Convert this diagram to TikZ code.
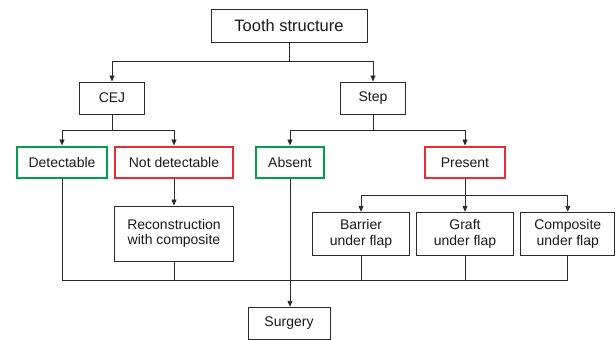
\documentclass[tikz,border=0pt]{standalone}
\usepackage{fontspec}
\setmainfont{Liberation Sans}
\usetikzlibrary{arrows.meta}
\definecolor{lc}{HTML}{2A2A2A}
\definecolor{gbox}{HTML}{00A04A}
\definecolor{rbox}{HTML}{EC2A30}
\begin{document}
\begin{tikzpicture}[x=1pt,y=-1pt,
  box/.style={draw=lc,line width=1pt,inner sep=0pt,align=center,text=black!90,
    font=\fontsize{14}{15.5}\selectfont},
  gbx/.style={box,draw=gbox,line width=2.6pt},
  rbx/.style={box,draw=rbox,line width=2.6pt},
  ln/.style={draw=lc,line width=0.9pt},
  arr/.style={ln,-{Triangle[length=6pt,width=5pt]}}]
\useasboundingbox (0,0) rectangle (616,340);
\node[box,minimum width=156pt,minimum height=33pt,font=\fontsize{16.5}{18}\selectfont] (ts) at (289,25.7) {Tooth structure};
\node[box,minimum width=65pt,minimum height=32pt] (cej) at (112,98) {CEJ};
\node[box,minimum width=65pt,minimum height=32pt] (step) at (373,98) {Step};
\node[gbx,minimum width=90pt,minimum height=31pt] (det) at (62,162.3) {Detectable};
\node[rbx,minimum width=118pt,minimum height=31pt] (ndet) at (174,162.3) {Not detectable};
\node[gbx,minimum width=68pt,minimum height=31pt] (abs) at (290,162.3) {Absent};
\node[rbx,minimum width=80pt,minimum height=31pt] (pres) at (465,162.3) {Present};
\node[box,minimum width=119pt,minimum height=55pt] (rec) at (174,233.5) {Reconstruction\\with composite};
\node[box,minimum width=97pt,minimum height=43pt] (bar) at (361,233.8) {Barrier\\under flap};
\node[box,minimum width=97pt,minimum height=43pt] (gra) at (465,233.8) {Graft\\under flap};
\node[box,minimum width=94pt,minimum height=43pt] (comp) at (567.8,233.8) {Composite\\under flap};
\node[box,minimum width=82pt,minimum height=32pt] (surg) at (289,323.3) {Surgery};
\coordinate (l1) at (0,61.7);
\coordinate (l2) at (0,130);
\coordinate (l3) at (0,195);
\coordinate (bl) at (0,280.7);
% level 1
\draw[ln] (ts.south) -- (ts.south |- l1);
\draw[arr] (ts.south |- l1) -| (cej.north);
\draw[arr] (ts.south |- l1) -| (step.north);
% level 2
\draw[ln] (cej.south) -- (cej.south |- l2);
\draw[arr] (cej.south |- l2) -| (det.north);
\draw[arr] (cej.south |- l2) -| (ndet.north);
\draw[ln] (step.south) -- (step.south |- l2);
\draw[arr] (step.south |- l2) -| (abs.north);
\draw[arr] (step.south |- l2) -| (pres.north);
% level 3
\draw[arr] (ndet.south) -- (rec.north);
\draw[ln] (pres.south) -- (pres.south |- l3);
\draw[arr] (pres.south |- l3) -| (bar.north);
\draw[arr] (pres.south |- l3) -- (gra.north);
\draw[arr] (pres.south |- l3) -| (comp.north);
% bottom
\draw[ln] (det.south) -- (det.south |- bl) -- (comp.south |- bl) -- (comp.south);
\draw[ln] (rec.south) -- (rec.south |- bl);
\draw[ln] (bar.south) -- (bar.south |- bl);
\draw[ln] (gra.south) -- (gra.south |- bl);
\draw[arr] (abs.south) -- (abs.south |- surg.north);
\end{tikzpicture}
\end{document}
